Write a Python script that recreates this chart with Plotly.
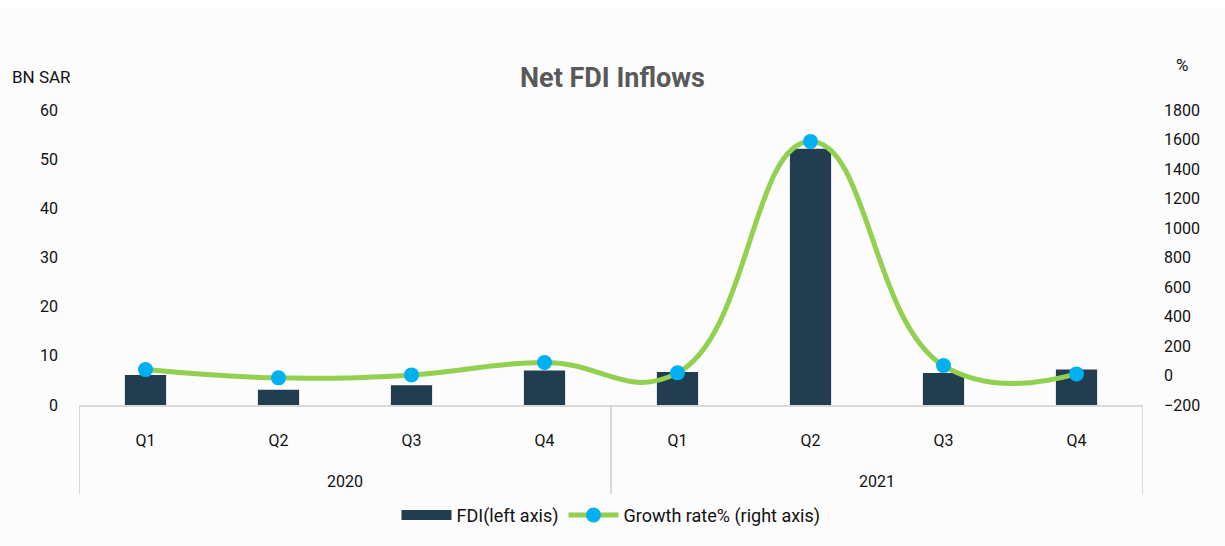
import plotly.graph_objects as go

# Quarterly net FDI inflows (BN SAR) and growth rate (%)
years = ["2020", "2021"]
quarters = ["Q1", "Q2", "Q3", "Q4"]
fdi = [6.1, 3.1, 4.0, 7.0, 6.7, 52.1, 6.5, 7.2]
growth = [40, -16, 4, 88, 18, 1587, 67, 11]

labels = [q for _ in years for q in quarters]
xpos = list(range(len(labels)))

BAR = "#223D4F"
LINE = "#92D050"
MARK = "#00B0F0"
GRID = "#D9D9D9"
FONT = "Roboto, DejaVu Sans, sans-serif"

fig = go.Figure()
fig.add_trace(go.Bar(
    x=xpos, y=fdi, name="FDI(left axis)", width=0.31, showlegend=False,
    marker=dict(color=BAR, line=dict(width=0)), yaxis="y",
))
# wide rectangular legend key for the bar series
fig.add_trace(go.Scatter(
    x=[None], y=[None], name="FDI(left axis)", mode="lines",
    line=dict(color=BAR, width=13), yaxis="y",
))
fig.add_trace(go.Scatter(
    x=xpos, y=growth, name="Growth rate% (right axis)", yaxis="y2",
    mode="lines+markers",
    line=dict(color=LINE, width=5, shape="spline", smoothing=1.3),
    marker=dict(color=MARK, size=15, line=dict(width=0)),
))

shapes = [
    # thin white band along the top edge
    dict(type="rect", xref="paper", yref="paper", x0=-0.1, x1=1.1,
         y0=1 + 102 / 297, y1=1 + 115 / 297, fillcolor="white",
         line=dict(width=0), layer="below"),
]
# group dividers below the category axis
n = len(quarters)
for b in range(len(years) + 1):
    xv = b * n - 0.5
    shapes.append(dict(type="line", xref="x", yref="paper", ysizemode="pixel",
                       yanchor=0, x0=xv, x1=xv, y0=0, y1=-89,
                       line=dict(color=GRID, width=2)))

annotations = [
    dict(text="BN SAR", xref="paper", yref="paper", x=0, y=1, xanchor="center",
         yanchor="middle", xshift=-38, yshift=33, showarrow=False,
         font=dict(size=17, color="#111111", family=FONT)),
    dict(text="%", xref="paper", yref="paper", x=1, y=1, xanchor="center",
         yanchor="middle", xshift=39, yshift=45, showarrow=False,
         font=dict(size=17, color="#111111", family=FONT)),
]
for i, yr in enumerate(years):
    annotations.append(dict(
        text=yr, xref="x", yref="paper", x=i * n + (n - 1) / 2, y=0,
        xanchor="center", yanchor="middle", yshift=-76, showarrow=False,
        font=dict(size=16, color="#111111", family=FONT)))

fig.update_layout(
    width=1225, height=546,
    margin=dict(l=79, r=82, t=110, b=139),
    paper_bgcolor="#FCFCFC", plot_bgcolor="#FCFCFC",
    font=dict(family=FONT, size=16, color="#111111"),
    title=dict(text="<b>Net FDI Inflows</b>", x=0.5, xanchor="center",
               y=1 - 78 / 546, yref="container", yanchor="middle",
               font=dict(size=27, color="#595959", family=FONT)),
    xaxis=dict(range=[-0.5, len(labels) - 0.5], tickmode="array",
               tickvals=xpos, ticktext=labels, showgrid=False, zeroline=False,
               showline=True, linecolor=GRID, linewidth=2, ticks="",
               ticklabelstandoff=20, tickfont=dict(size=16, color="#111111")),
    yaxis=dict(range=[0, 60], dtick=10, showgrid=False, zeroline=False,
               showline=False, ticks="", ticklabelstandoff=20,
               tickfont=dict(size=16, color="#111111")),
    yaxis2=dict(range=[-200, 1800], dtick=200, overlaying="y", side="right",
                showgrid=False, zeroline=False, showline=False, ticks="",
                ticklabelstandoff=20, tickfont=dict(size=16, color="#111111")),
    legend=dict(orientation="h", x=0.5, xanchor="center", y=-111 / 297,
                yanchor="middle", bgcolor="rgba(0,0,0,0)",
                font=dict(size=18, color="#111111"), itemwidth=50),
    bargap=0.69,
    shapes=shapes,
    annotations=annotations,
)

fig.write_html("out.html")
